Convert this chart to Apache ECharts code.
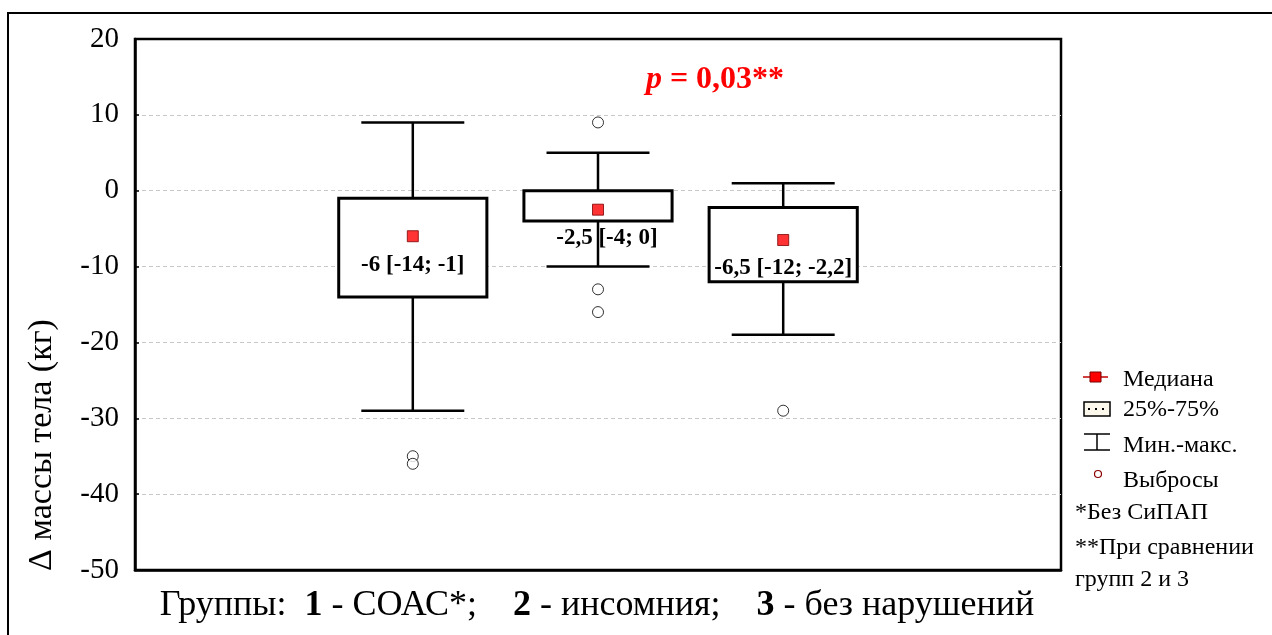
<!DOCTYPE html>
<html>
<head>
<meta charset="utf-8">
<script src="https://cdn.jsdelivr.net/npm/echarts@6/dist/echarts.min.js"></script>
<style>html,body{margin:0;padding:0;background:#fff}#c{width:1272px;height:635px}</style>
</head>
<body>
<div id="c"></div>
<script>
// ---- data ----
const categories = ['', '1', '2', '3', ''];
const groupIndex = [1, 2, 3];
const mins    = [-29, -10, -19];
const q1s     = [-14, -4, -12];
const medians = [-6, -2.5, -6.5];
const q3s     = [-1, 0, -2.2];
const maxs    = [9, 5, 1];
const medianLabels = ['-6 [-14; -1]', '-2,5 [-4; 0]', '-6,5 [-12; -2,2]'];
const outlierGroups = [1, 1, 2, 2, 2, 3];
const outlierValues = [-35, -36, 9, -13, -16, -29];
const yTicks = [-50, -40, -30, -20, -10, 0, 10, 20];

const FONT = '"Liberation Serif", "Times New Roman", serif';
const labelShift = [0, 9, 0];

const boxData = groupIndex.map((g, i) => [g, mins[i], q1s[i], medians[i], q3s[i], maxs[i]]);
const medData = groupIndex.map((g, i) => ({ value: [g, medians[i]], label: { formatter: medianLabels[i], offset: [labelShift[i], 0] } }));
const outData = outlierGroups.map((g, i) => [g, outlierValues[i]]);

const chart = echarts.init(document.getElementById('c'), null, { renderer: 'canvas' });

function renderBox(params, api) {
  const x = api.value(0);
  const band = api.size([1, 0])[0];
  const pMin = api.coord([x, api.value(1)]);
  const pQ1 = api.coord([x, api.value(2)]);
  const pQ3 = api.coord([x, api.value(4)]);
  const pMax = api.coord([x, api.value(5)]);
  const cx = pMin[0];
  const bw = band * 0.8;
  const cw = band * 0.556;
  const lineStyle = { stroke: '#000', lineWidth: 2.5, fill: null };
  return {
    type: 'group',
    children: [
      { type: 'line', shape: { x1: cx, y1: pMax[1], x2: cx, y2: pQ3[1] }, style: lineStyle },
      { type: 'line', shape: { x1: cx, y1: pQ1[1], x2: cx, y2: pMin[1] }, style: lineStyle },
      { type: 'line', shape: { x1: cx - cw / 2, y1: pMax[1], x2: cx + cw / 2, y2: pMax[1] }, style: lineStyle },
      { type: 'line', shape: { x1: cx - cw / 2, y1: pMin[1], x2: cx + cw / 2, y2: pMin[1] }, style: lineStyle },
      { type: 'rect', shape: { x: cx - bw / 2, y: pQ3[1], width: bw, height: pQ1[1] - pQ3[1] },
        style: { fill: '#fff', stroke: '#000', lineWidth: 3 } }
    ]
  };
}

const option = {
  animation: false,
  backgroundColor: '#fff',
  grid: { left: 135, top: 39, width: 926, height: 531, show: true, borderColor: '#000', borderWidth: 2.5, backgroundColor: 'transparent' },
  xAxis: {
    type: 'category',
    data: categories,
    boundaryGap: true,
    axisLine: { onZero: false, lineStyle: { color: '#000', width: 2.5 } },
    axisTick: { alignWithLabel: true, inside: true, length: 5, lineStyle: { color: '#000', width: 1.5 } },
    axisLabel: { show: false },
    splitLine: { show: false }
  },
  yAxis: {
    type: 'value',
    min: -50, max: 20, interval: 10,
    axisLine: { show: true, onZero: false, lineStyle: { color: '#000', width: 2.5 } },
    axisTick: { show: true, inside: true, length: 4, lineStyle: { color: '#000', width: 1.5 } },
    axisLabel: { color: '#000', fontFamily: FONT, fontSize: 29, margin: 16,
      formatter: v => (yTicks.indexOf(v) >= 0 ? String(v) : '') },
    splitLine: { show: true, showMaxLine: false, showMinLine: false, lineStyle: { color: '#c8c8c8', type: [4, 3], width: 1 } }
  },
  series: [
    { type: 'custom', renderItem: renderBox, data: boxData, z: 2,
      encode: { x: 0, y: [1, 2, 3, 4, 5] } },
    { type: 'scatter', data: outData, symbol: 'circle', symbolSize: 11, z: 3,
      itemStyle: { color: '#fff', borderColor: '#000', borderWidth: 1 } },
    { type: 'scatter', data: medData, symbol: 'rect', symbolSize: 11, z: 4,
      itemStyle: { color: '#ff0000', borderColor: '#7a0000', borderWidth: 1 },
      label: { show: true, position: 'bottom', distance: 11, color: '#000', fontFamily: FONT,
        fontSize: 23, fontWeight: 'bold', textBorderWidth: 0, opacity: 1 } }
  ],
  graphic: [
    { type: 'polyline', shape: { points: [[8, 640], [8, 13], [1280, 13]] }, style: { stroke: '#000', lineWidth: 2, fill: null }, silent: true },
    { type: 'text', x: 42, y: 445, rotation: Math.PI / 2,
      style: { text: 'Δ массы тела (кг)', font: '34px ' + FONT, fill: '#000', align: 'center', verticalAlign: 'middle' } },
    { type: 'text', x: 597, y: 606,
      style: { text: '{n|Группы:  }{b|1}{n| - СОАС*;    }{b|2}{n| - инсомния;    }{b|3}{n| - без нарушений}',
        align: 'center', verticalAlign: 'middle',
        rich: { n: { fontFamily: FONT, fontSize: 36, fill: '#000', color: '#000' },
                b: { fontFamily: FONT, fontSize: 36, fontWeight: 'bold', fill: '#000', color: '#000' } } } },
    { type: 'text', x: 715, y: 80,
      style: { text: '{i|p}{b| = 0,03**}', align: 'center', verticalAlign: 'middle',
        rich: { i: { fontFamily: FONT, fontSize: 32, fontWeight: 'bold', fontStyle: 'italic', fill: '#ff0000', color: '#ff0000' },
                b: { fontFamily: FONT, fontSize: 32, fontWeight: 'bold', fill: '#ff0000', color: '#ff0000' } } } },
    // legend
    { type: 'line', shape: { x1: 1083, y1: 377, x2: 1108, y2: 377 }, style: { stroke: '#c00000', lineWidth: 1.5 } },
    { type: 'rect', shape: { x: 1090, y: 372, width: 11, height: 10 }, style: { fill: '#ff0000', stroke: '#7a0000', lineWidth: 1 } },
    { type: 'text', x: 1123, y: 380, style: { text: 'Медиана', font: '24px ' + FONT, fill: '#000', verticalAlign: 'middle' } },
    { type: 'rect', shape: { x: 1084, y: 402, width: 26, height: 14 }, style: { fill: '#fdf8ec', stroke: '#000', lineWidth: 1.5 } },
    { type: 'line', shape: { x1: 1088, y1: 409, x2: 1108, y2: 409 }, style: { stroke: '#000', lineWidth: 2, lineDash: [2, 5] } },
    { type: 'text', x: 1123, y: 410, style: { text: '25%-75%', font: '24px ' + FONT, fill: '#000', verticalAlign: 'middle' } },
    { type: 'polyline', shape: { points: [[1084, 434], [1110, 434]] }, style: { stroke: '#000', lineWidth: 1.5 } },
    { type: 'polyline', shape: { points: [[1097, 434], [1097, 450]] }, style: { stroke: '#000', lineWidth: 1.5 } },
    { type: 'polyline', shape: { points: [[1084, 450], [1110, 450]] }, style: { stroke: '#000', lineWidth: 1.5 } },
    { type: 'text', x: 1123, y: 446, style: { text: 'Мин.-макс.', font: '24px ' + FONT, fill: '#000', verticalAlign: 'middle' } },
    { type: 'circle', shape: { cx: 1098, cy: 474, r: 3.5 }, style: { fill: '#fff', stroke: '#8b0000', lineWidth: 1.2 } },
    { type: 'text', x: 1123, y: 481, style: { text: 'Выбросы', font: '24px ' + FONT, fill: '#000', verticalAlign: 'middle' } },
    { type: 'text', x: 1075, y: 513, style: { text: '*Без СиПАП', font: '24px ' + FONT, fill: '#000', verticalAlign: 'middle' } },
    { type: 'text', x: 1075, y: 548, style: { text: '**При сравнении', font: '24px ' + FONT, fill: '#000', verticalAlign: 'middle' } },
    { type: 'text', x: 1075, y: 580, style: { text: 'групп 2 и 3', font: '24px ' + FONT, fill: '#000', verticalAlign: 'middle' } }
  ]
};
chart.setOption(option);
</script>
</body>
</html>
